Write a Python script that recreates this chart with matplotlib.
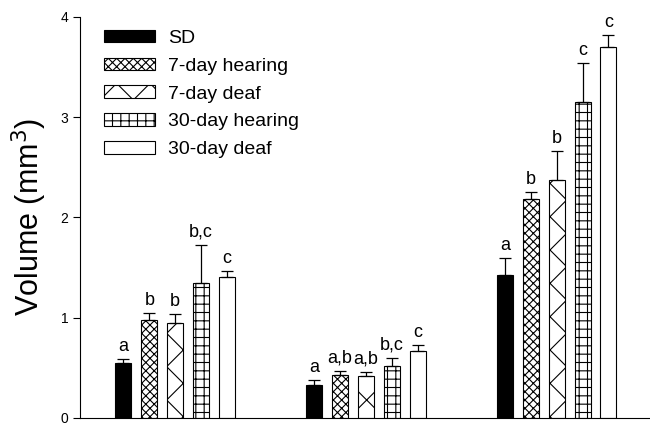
import numpy as np
import matplotlib.pyplot as plt

plt.rcParams['font.family'] = ['Liberation Sans', 'DejaVu Sans']

# three regions (no x labels in the original), five groups each
groups = ['SD', '7-day hearing', '7-day deaf', '30-day hearing', '30-day deaf']
sd = [0.55, 0.33, 1.43]
hear7 = [0.98, 0.43, 2.18]
deaf7 = [0.95, 0.42, 2.37]
hear30 = [1.35, 0.52, 3.15]
deaf30 = [1.41, 0.67, 3.70]

err_sd = [0.04, 0.05, 0.17]
err_hear7 = [0.07, 0.04, 0.07]
err_deaf7 = [0.09, 0.04, 0.29]
err_hear30 = [0.38, 0.08, 0.39]
err_deaf30 = [0.06, 0.06, 0.12]

lbl_sd = ['a', 'a', 'a']
lbl_hear7 = ['b', 'a,b', 'b']
lbl_deaf7 = ['b', 'a,b', 'b']
lbl_hear30 = ['b,c', 'b,c', 'c']
lbl_deaf30 = ['c', 'c', 'c']

values = [sd, hear7, deaf7, hear30, deaf30]
errors = [err_sd, err_hear7, err_deaf7, err_hear30, err_deaf30]
letters = [lbl_sd, lbl_hear7, lbl_deaf7, lbl_hear30, lbl_deaf30]

faces = ['black', 'white', 'white', 'white', 'white']
hatches = [None, 'xxxx', 'x', '++', None]

fig = plt.figure(figsize=(6.5, 4.25), dpi=100)
ax = fig.add_axes([0.123, 0.0165, 0.88, 0.9435])

plt.rcParams['hatch.linewidth'] = 0.8
x = np.arange(3)
step = 0.136
width = 0.084
for i in range(5):
    pos = x + (i - 2) * step
    ax.bar(pos, values[i], width, color=faces[i], edgecolor='black',
           hatch=hatches[i], linewidth=0.8, label=groups[i], zorder=2)
    ax.errorbar(pos, values[i], yerr=[np.zeros(3), errors[i]], fmt='none',
                ecolor='black', elinewidth=0.9, capsize=4, capthick=0.9, zorder=3)
    for p, v, e, t in zip(pos, values[i], errors[i], letters[i]):
        ax.text(p, v + e + 0.04, t, ha='center', va='bottom', fontsize=13)

ax.set_xlim(-0.5, 2.5)
ax.set_ylim(0, 4)
ax.set_yticks([0, 1, 2, 3, 4])
ax.set_xticks([])
ax.tick_params(axis='y', direction='out', length=5, labelsize=10, width=0.8)
for s in ['top', 'right']:
    ax.spines[s].set_visible(False)
ax.spines['left'].set_linewidth(0.8)
ax.spines['bottom'].set_linewidth(0.8)
ax.set_ylabel('Volume (mm$^3$)', fontsize=22, labelpad=8)

ax.legend(loc='upper left', bbox_to_anchor=(0.16, 0.93), bbox_transform=fig.transFigure,
          frameon=False, fontsize=14, handlelength=2.6, handleheight=0.62,
          handletextpad=0.7, labelspacing=0.55, borderpad=0, borderaxespad=0)

fig.savefig('out.png', dpi=100)
